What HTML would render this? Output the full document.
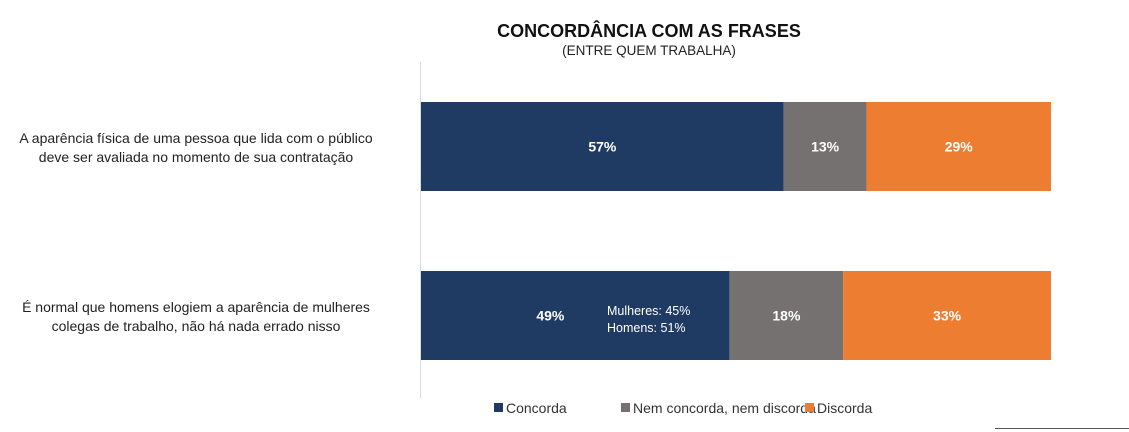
<!DOCTYPE html>
<html><head><meta charset="utf-8"><style>
html,body{margin:0;padding:0;background:#fff;width:1129px;height:432px;overflow:hidden}
svg{display:block;font-family:"Liberation Sans",sans-serif}
</style></head><body>
<svg id="chart" width="1129" height="432">
<text x="649" y="37" text-anchor="middle" font-size="18" font-weight="bold" fill="#111">CONCORDÂNCIA COM AS FRASES</text>
<text x="649" y="55" text-anchor="middle" font-size="13.5" fill="#222">(ENTRE QUEM TRABALHA)</text>
<line x1="420.5" y1="62" x2="420.5" y2="398" stroke="#d9d9d9"/>
<g id="bars"></g>
<g>
<g><rect x="494" y="403" width="9" height="9" fill="#1f3b63"/><text x="506" y="413" font-size="14" fill="#333">Concorda</text></g>
<g><rect x="621" y="403" width="9" height="9" fill="#767171"/><text x="633" y="413" font-size="14" fill="#333">Nem concorda, nem discorda</text></g>
<g><rect x="805" y="403" width="9" height="9" fill="#ed7d31"/><text x="817" y="413" font-size="14" fill="#333">Discorda</text></g>
</g>
<line x1="995" y1="428.5" x2="1129" y2="428.5" stroke="#555"/>
</svg>
<script>
const categories=[["A aparência física de uma pessoa que lida com o público","deve ser avaliada no momento de sua contratação"],["É normal que homens elogiem a aparência de mulheres","colegas de trabalho, não há nada errado nisso"]];
const concorda=[57,49];
const neutro=[13,18];
const discorda=[29,33];
const seriesNames=["concorda","nem-concorda","discorda"];
const colors=["#1f3b63","#767171","#ed7d31"];
const x0=421,plotW=630,barH=89,rowTop=[102,271];
const ns="http://www.w3.org/2000/svg";
const g=document.getElementById("bars");
function yPos(i){return 102+i*169;}
categories.forEach((cat,i)=>{
  const vals=[concorda[i],neutro[i],discorda[i]];
  const total=vals.reduce((a,b)=>a+b,0);
  const xs=v=>v/total*plotW;
  let x=x0;const y=yPos(i);
  vals.forEach((v,s)=>{
    const w=xs(v);
    const r=document.createElementNS(ns,"rect");
    r.setAttribute("x",x);r.setAttribute("y",y);r.setAttribute("width",w);r.setAttribute("height",barH);
    r.setAttribute("fill",colors[s]);
    
    
    g.appendChild(r);
    const t=document.createElementNS(ns,"text");
    const cx=(i===1&&s===0)?x+w*0.5-25:x+w/2;
    t.setAttribute("x",cx);t.setAttribute("y",y+barH/2+5);t.setAttribute("text-anchor","middle");
    t.setAttribute("font-size","14");t.setAttribute("font-weight","bold");t.setAttribute("fill","#fff");
    t.textContent=v+"%";
    
    
    g.appendChild(t);
    x+=w;
  });
  cat.forEach((line,k)=>{
    const t=document.createElementNS(ns,"text");
    t.setAttribute("x",196);t.setAttribute("y",y+41+k*19);t.setAttribute("text-anchor","middle");
    t.setAttribute("font-size","14");t.setAttribute("fill","#222");
    t.textContent=line;
    
    
    g.appendChild(t);
  });
});
["Mulheres: 45%","Homens: 51%"].forEach((s,k)=>{
  const t=document.createElementNS(ns,"text");
  t.setAttribute("x",607);t.setAttribute("y",315+k*17);t.setAttribute("font-size","12.5");t.setAttribute("fill","#fff");
  t.textContent=s;
  
  
  g.appendChild(t);
});
</script>
</body></html>
